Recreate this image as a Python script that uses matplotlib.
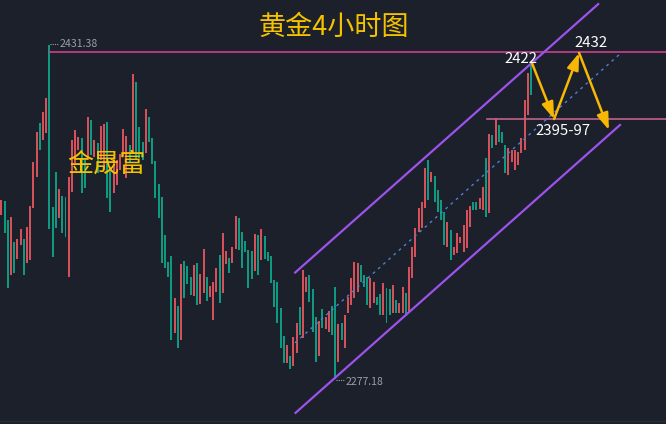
import matplotlib
matplotlib.use("Agg")
import matplotlib.pyplot as plt
import numpy as np

plt.rcParams['font.family'] = ['Noto Sans CJK SC', 'DejaVu Sans']

# ---- data (4h gold candles) ----
opens = [2352.9, 2359.4, 2350.6, 2325.2, 2340.4, 2332.6, 2339.0, 2341.8, 2330.7, 2332.1,
         2356.1, 2370.4, 2395.4, 2387.5, 2390.8, 2431.4, 2356.6, 2372.7, 2351.5, 2361.7,
         2361.2, 2324.3, 2363.5, 2376.9, 2382.9, 2388.4, 2378.3, 2378.3, 2396.8, 2379.7,
         2386.1, 2378.3, 2373.7, 2395.8, 2375.1, 2363.1, 2366.8, 2373.7, 2379.7, 2370.0,
         2385.2, 2381.5, 2414.3, 2393.5, 2386.6, 2381.5, 2398.1, 2388.4, 2377.8, 2367.2,
         2361.2, 2343.7, 2331.2, 2334.0, 2298.4, 2310.9, 2295.2, 2331.7, 2329.3, 2324.3,
         2315.5, 2330.7, 2311.8, 2316.9, 2324.3, 2315.0, 2304.4, 2317.3, 2334.4, 2316.9,
         2330.3, 2333.0, 2330.7, 2337.2, 2351.5, 2345.0, 2340.9, 2336.7, 2336.3, 2327.0,
         2343.7, 2332.1, 2343.2, 2335.8, 2334.0, 2322.9, 2322.0, 2310.0, 2297.0, 2284.6,
         2287.8, 2283.2, 2289.2, 2310.4, 2296.1, 2317.3, 2325.2, 2318.7, 2305.8, 2287.8,
         2309.5, 2300.3, 2298.9, 2310.9, 2319.7, 2285.0, 2303.0, 2291.5, 2307.7, 2311.3,
         2314.6, 2317.3, 2329.8, 2325.2, 2324.3, 2310.0, 2312.3, 2315.0, 2316.4, 2306.7,
         2319.2, 2318.7, 2307.7, 2313.7, 2307.7, 2307.7, 2316.9, 2307.7, 2323.8, 2333.5,
         2345.0, 2346.9, 2356.1, 2378.3, 2368.1, 2370.9, 2364.4, 2359.8, 2354.3, 2338.1,
         2346.0, 2334.4, 2335.4, 2340.0, 2335.8, 2337.7, 2347.4, 2358.9, 2358.9, 2355.7,
         2355.2, 2379.2, 2353.8, 2389.8, 2385.2, 2394.4, 2391.2, 2385.2, 2371.4, 2377.4,
         2373.7, 2376.0, 2381.5, 2382.9, 2399.1, 2423.1]
closes = [2359.8, 2344.6, 2319.2, 2352.0, 2326.1, 2341.8, 2346.4, 2325.2, 2347.4, 2357.1,
          2377.4, 2391.2, 2382.9, 2400.4, 2406.9, 2346.4, 2333.5, 2346.9, 2364.9, 2344.6,
          2342.7, 2370.4, 2387.5, 2392.1, 2388.9, 2363.1, 2365.4, 2398.1, 2380.6, 2387.5,
          2372.3, 2394.0, 2394.9, 2360.7, 2354.3, 2379.7, 2378.3, 2381.1, 2392.6, 2389.4,
          2376.9, 2418.0, 2378.3, 2379.2, 2378.3, 2401.8, 2386.6, 2376.4, 2360.7, 2351.5,
          2330.7, 2328.4, 2324.3, 2295.2, 2314.6, 2291.5, 2330.3, 2314.6, 2321.0, 2316.0,
          2329.8, 2311.3, 2325.7, 2337.2, 2313.2, 2320.1, 2322.0, 2328.4, 2312.3, 2344.6,
          2336.3, 2326.1, 2338.1, 2352.4, 2336.7, 2328.4, 2335.8, 2319.2, 2323.3, 2344.1,
          2325.2, 2346.4, 2332.6, 2331.7, 2321.5, 2310.4, 2303.0, 2291.5, 2284.6, 2292.9,
          2281.8, 2296.6, 2303.0, 2297.5, 2327.5, 2324.3, 2312.7, 2298.9, 2285.0, 2304.0,
          2300.7, 2305.8, 2308.6, 2297.5, 2277.2, 2302.6, 2295.2, 2306.7, 2315.0, 2323.8,
          2331.2, 2330.7, 2322.0, 2319.7, 2311.3, 2323.8, 2322.0, 2311.3, 2306.7, 2321.5,
          2303.0, 2306.7, 2320.6, 2307.7, 2312.3, 2319.7, 2306.3, 2328.9, 2338.1, 2346.9,
          2356.1, 2358.9, 2374.6, 2359.8, 2372.7, 2358.9, 2354.3, 2350.6, 2339.0, 2349.7,
          2332.1, 2338.1, 2344.6, 2342.7, 2348.3, 2355.2, 2357.1, 2355.2, 2355.2, 2360.7,
          2365.8, 2352.0, 2390.3, 2383.8, 2397.7, 2386.6, 2386.1, 2372.3, 2383.8, 2382.9,
          2382.9, 2382.0, 2388.4, 2406.0, 2418.5, 2408.3]

high_price = 2431.38
low_price = 2277.18
high_idx = 15
low_idx = 104

resist_level = 2428.1
support_level = 2397.4
support_start = 151.3

# channel lines (candle index, price)
upper_x = [91.3, 186.2]
upper_y = [2326.0, 2450.6]
lower_x = [91.4, 193.0]
lower_y = [2261.2, 2394.8]
mid_x = [91.5, 193.0]
mid_y = [2293.9, 2427.6]

# forecast path
path_x = [165.3, 172.2, 180.0, 189.3]
path_y = [2423.1, 2397.2, 2427.7, 2392.1]

title = "黄金4小时图"
watermark = "金晟富"
labels = [("2422", 161.8, 2424.9), ("2432", 183.7, 2432.3), ("2395-97", 175.0, 2391.6)]

# ---- drawing ----
BG = "#1b202b"
UP = "#d4505a"
DOWN = "#0e9a80"

fig = plt.figure(figsize=(6.66, 4.24), dpi=100)
fig.patch.set_facecolor(BG)
ax = fig.add_axes([0, 0, 1, 1])
ax.set_facecolor(BG)
ax.set_xlim(-0.405, 207.07)
ax.set_ylim(2256.4, 2452.16)
ax.axis('off')

o = np.array(opens)
c = np.array(closes)
x = np.arange(len(o))
cols = [UP if cc >= oo else DOWN for oo, cc in zip(o, c)]
ax.bar(x, c - o, bottom=o, width=0.62, color=cols, linewidth=0, zorder=2)

# horizontal levels
ax.plot([high_idx, 210], [resist_level, resist_level], color="#c8418f", lw=1.2, zorder=3)
ax.plot([support_start, 210], [support_level, support_level], color="#c0628c", lw=1.2, zorder=3)

# channel
ax.plot(upper_x, upper_y, color="#9d52ec", lw=1.6, zorder=4, solid_capstyle='butt')
ax.plot(lower_x, lower_y, color="#9d52ec", lw=1.6, zorder=4, solid_capstyle='butt')
ax.plot(mid_x, mid_y, color="#4f7fd8", lw=1.0, ls=(0, (2, 3)), zorder=4)

# extremes labels
ax.plot([high_idx + 0.3, high_idx + 2.7], [high_price + 0.6] * 2, color="#9a9ea8", lw=0.8, ls=(0, (1, 1)))
ax.text(high_idx + 3.1, high_price + 0.6, "2431.38", color="#9a9ea8", fontsize=7.6, va='center', ha='left')
ax.plot([low_idx + 0.3, low_idx + 3.0], [low_price - 0.4] * 2, color="#9a9ea8", lw=0.8, ls=(0, (1, 1)))
ax.text(low_idx + 3.3, low_price - 1.4, "2277.18", color="#9a9ea8", fontsize=7.6, va='center', ha='left')

# forecast arrows
for i in range(len(path_x) - 1):
    ax.annotate("", xy=(path_x[i + 1], path_y[i + 1]), xytext=(path_x[i], path_y[i]),
                arrowprops=dict(arrowstyle="-|>,head_length=1.0,head_width=0.35",
                                color="#f7b705", lw=1.8, shrinkA=0, shrinkB=0), zorder=6)

for t, lx, ly in labels:
    ax.text(lx, ly, t, color="white", fontsize=10.8, ha='center', va='center', zorder=7)

ax.text(334 / 666, 1 - 27 / 424, title, transform=ax.transAxes, color="#f5c200",
        fontsize=19.5, ha='center', va='center', zorder=7)
ax.text(106 / 666, 1 - 164 / 424, watermark, transform=ax.transAxes, color="#f5c200",
        fontsize=18.8, ha='center', va='center', zorder=7)

# bottom frame line
ax.axhline(2256.4 + 0.4617 * 2.5, color="#262c38", lw=1.0, zorder=1)

fig.savefig("out.png", dpi=100, facecolor=BG)
